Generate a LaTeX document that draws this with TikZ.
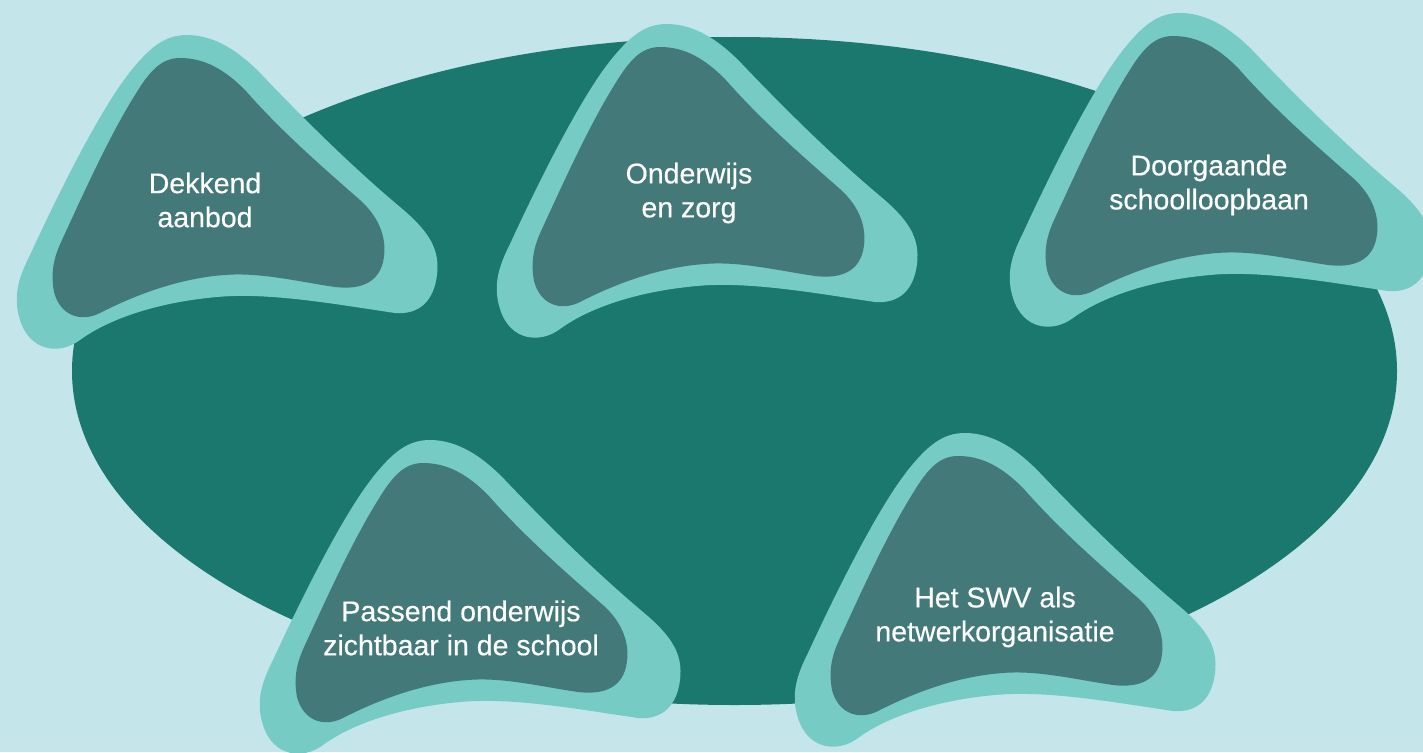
\documentclass[tikz,border=0pt]{standalone}
\usepackage{fontspec}
\setmainfont{Liberation Sans}
\newfontfamily\lblfont{Liberation Sans}[BoldFont={Liberation Sans}, BoldFeatures={FakeBold=0.4}]
\definecolor{bgc}{HTML}{C4E6EA}
\definecolor{ellc}{HTML}{1B786E}
\definecolor{blobout}{HTML}{76CBC5}
\definecolor{blobin}{HTML}{437A79}
\tikzset{
  lbl/.style={text=white, font=\lblfont\bfseries\fontsize{28.5}{34}\selectfont, align=center, inner sep=0pt},
  pics/blob/.style={code={
    \fill[blobout] (187,35) .. controls (215,35) and (240,52) .. (262,75)
      .. controls (300,115) and (350,165) .. (400,207)
      .. controls (430,232) and (440,250) .. (437,275)
      .. controls (434,300) and (420,315) .. (395,313)
      .. controls (340,305) and (270,292) .. (217,297)
      .. controls (160,302) and (110,318) .. (80,340)
      .. controls (60,355) and (30,352) .. (20,320)
      .. controls (12,295) and (20,275) .. (30,255)
      .. controls (60,190) and (100,110) .. (130,72)
      .. controls (150,47) and (165,35) .. (187,35) -- cycle;
    \fill[blobin] (180,58) .. controls (205,58) and (225,70) .. (245,90)
      .. controls (280,130) and (320,165) .. (360,200)
      .. controls (380,218) and (388,240) .. (383,262)
      .. controls (378,283) and (360,290) .. (335,287)
      .. controls (300,282) and (260,272) .. (225,275)
      .. controls (180,278) and (135,295) .. (100,313)
      .. controls (80,323) and (60,315) .. (54,292)
      .. controls (50,270) and (55,255) .. (62,240)
      .. controls (85,190) and (110,135) .. (135,95)
      .. controls (150,70) and (162,58) .. (180,58) -- cycle;
  }}
}
\begin{document}
\begin{tikzpicture}[x=1pt, y=-1pt]
\useasboundingbox (0,0) rectangle (1423,752);
\fill[bgc] (0,0) rectangle (1423,752);
\fill[ellc] (734.5,371) ellipse [x radius=662.5, y radius=334];
\pic at (0,0) {blob};
\pic at (480,-11) {blob};
\pic at (993,-22) {blob};
\pic at (243,405) {blob};
\pic at (778,398) {blob};
\node[lbl] (dekkend) at (205,200) {Dekkend\\aanbod};
\node[lbl] (onderwijs) at (689,193) {Onderwijs\\en zorg};
\node[lbl] (doorgaande) at (1209,185) {Doorgaande\\schoolloopbaan};
\node[lbl] (passend) at (461,628) {Passend onderwijs\\zichtbaar in de school};
\node[lbl] (swv) at (995,617) {Het SWV als\\netwerkorganisatie};
\end{tikzpicture}
\end{document}
